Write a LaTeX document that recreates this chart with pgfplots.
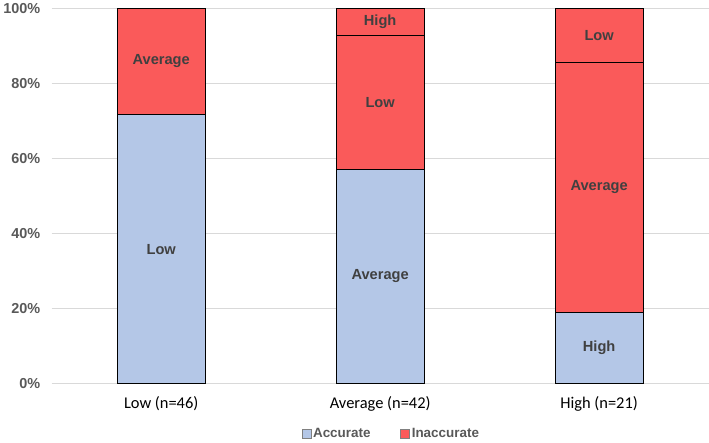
\documentclass[border=0pt]{standalone}
\usepackage{pgfplots}
\pgfplotsset{compat=1.18}
\usepackage{fontspec}
\setmainfont{Liberation Sans}
\newfontfamily\calibri{Carlito}
\definecolor{accblue}{HTML}{B4C7E7}
\definecolor{inared}{HTML}{FA5A5A}
\definecolor{txtgray}{HTML}{595959}
\definecolor{lblgray}{HTML}{404040}
\definecolor{gridgray}{HTML}{D9D9D9}

\begin{document}
\begin{tikzpicture}
\begin{axis}[
  scale only axis,
  width=660pt, height=377pt,
  xmin=-0.5, xmax=2.5,
  ymin=0, ymax=100,
  xtick={0,1,2},
  xticklabels={Low (n=46), Average (n=42), High (n=21)},
  ytick={0,20,...,100},
  yticklabels={0\%,20\%,40\%,60\%,80\%,100\%},
  ymajorgrids,
  grid style={gridgray, line width=0.75pt},
  axis line style={draw=none},
  major tick length=0pt,
  yticklabel style={font=\fontsize{14.5}{16}\selectfont\bfseries, text=txtgray, xshift=-8pt},
  xticklabel style={font=\calibri\fontsize{16.5}{18}\selectfont, text=black, yshift=-9pt},
  every node near coord/.append style={font=\fontsize{14.7}{16}\selectfont\bfseries, text=lblgray, anchor=center},
  bars/.style={ybar, bar width=0.4, bar shift=0pt, draw=black, line width=0.6pt, forget plot},
  legend style={at={(0.517,-0.133)}, anchor=center, legend columns=2, draw=none,
    font=\fontsize{13.5}{15}\selectfont\bfseries, text=txtgray,
    /tikz/every even column/.append style={column sep=28pt}},
  legend image code/.code={\draw[#1, draw=gray] (0pt,-4.5pt) rectangle (9pt,4.5pt);},
]
% cumulative tops of the segments, drawn from the top segment down
\addplot[bars, fill=inared] coordinates {(0,100) (1,100) (2,100)};
\addplot[bars, fill=inared] coordinates {(1,92.86) (2,85.71)};
\addplot[bars, fill=accblue] coordinates {(0,71.74) (1,57.14) (2,19.05)};
% segment labels at the middle of each segment
\addplot[draw=none, mark=none, forget plot, nodes near coords, point meta=explicit symbolic]
  table[meta=lab] {
x y lab
0 35.87 Low
0 85.87 Average
1 28.57 Average
1 75.00 Low
1 96.43 High
2 9.52 High
2 52.38 Average
2 92.86 Low
};
\addlegendimage{fill=accblue}
\addlegendentry{Accurate}
\addlegendimage{fill=inared}
\addlegendentry{Inaccurate}
\end{axis}
\end{tikzpicture}
\end{document}
